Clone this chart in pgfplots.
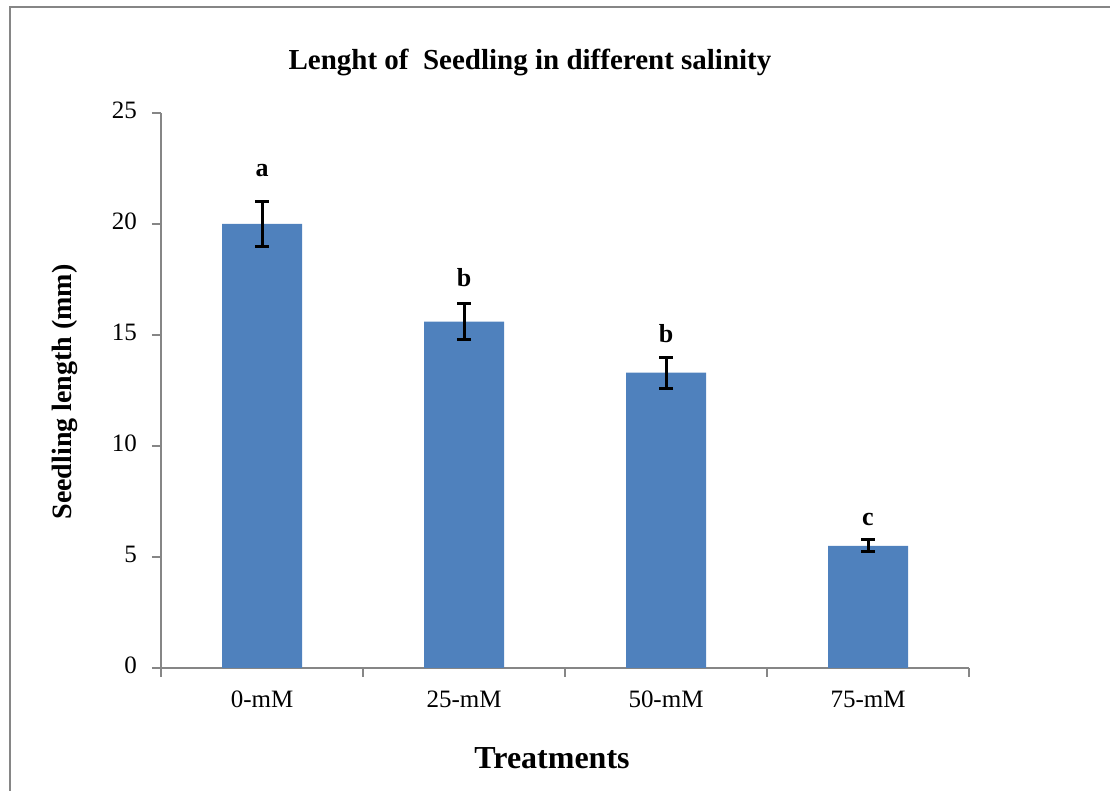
\documentclass[border=0pt]{standalone}
\usepackage{fontspec}
\setmainfont{Liberation Serif}
\usepackage{pgfplots}
\pgfplotsset{compat=1.18}
\definecolor{barblue}{HTML}{4F81BD}
\definecolor{axgray}{HTML}{868686}
\begin{document}
\begin{tikzpicture}
\pgfplotstableread{
x y err
0 20.0 1.0
1 15.6 0.8
2 13.3 0.7
3 5.5 0.27
}\datatable
\begin{axis}[
  at={(80.5pt,61.5pt)}, anchor=south west,
  scale only axis, width=404pt, height=277.5pt,
  xmin=-0.5, xmax=3.5, ymin=0, ymax=25,
  axis x line*=bottom, axis y line*=left,
  axis line style={axgray, line width=0.6pt},
  ytick={0,5,10,15,20,25},
  xtick={-0.5,0.5,1.5,2.5,3.5},
  x tick label as interval,
  xticklabels={0-mM,25-mM,50-mM,75-mM},
  typeset ticklabels with strut,
  tick align=outside,
  major tick length=4.5pt,
  tick style={axgray, line width=0.6pt},
  /pgf/number format/assume math mode=true,
  ticklabel style={font=\fontsize{12.5}{14}\selectfont, text=black},
  yticklabel style={xshift=-4pt},
  xticklabel style={yshift=-2pt},
  clip=false,
]
\addplot[ybar, bar width=40pt, fill=barblue, draw=none,
  error bars/.cd, y dir=both, y explicit,
  error bar style={black, line width=1.5pt},
  error mark options={rotate=90, mark size=3.5pt, line width=1.5pt, black}]
  table[x=x, y=y, y error=err] {\datatable};
\node[font=\fontsize{13}{15}\selectfont\bfseries] at (axis cs:0,22.4) {a};
\node[font=\fontsize{13}{15}\selectfont\bfseries] at (axis cs:1,17.6) {b};
\node[font=\fontsize{13}{15}\selectfont\bfseries] at (axis cs:2,15.05) {b};
\node[font=\fontsize{13}{15}\selectfont\bfseries] at (axis cs:3,6.7) {c};
\end{axis}
\node[font=\fontsize{14.5}{16}\selectfont\bfseries] at (265pt,364pt) {Lenght of\ \ Seedling in\ different salinity};
\node[font=\fontsize{14}{16}\selectfont\bfseries, rotate=90] at (32.5pt,199.5pt) {Seedling length (mm)};
\node[font=\fontsize{16}{18}\selectfont\bfseries] at (276pt,16.5pt) {Treatments};
\draw[axgray, line width=1.2pt] (5pt,0pt) -- (5pt,392pt) -- (555pt,392pt);
\pgfresetboundingbox
\useasboundingbox (0,0) rectangle (555pt,395.5pt);
\end{tikzpicture}
\end{document}
